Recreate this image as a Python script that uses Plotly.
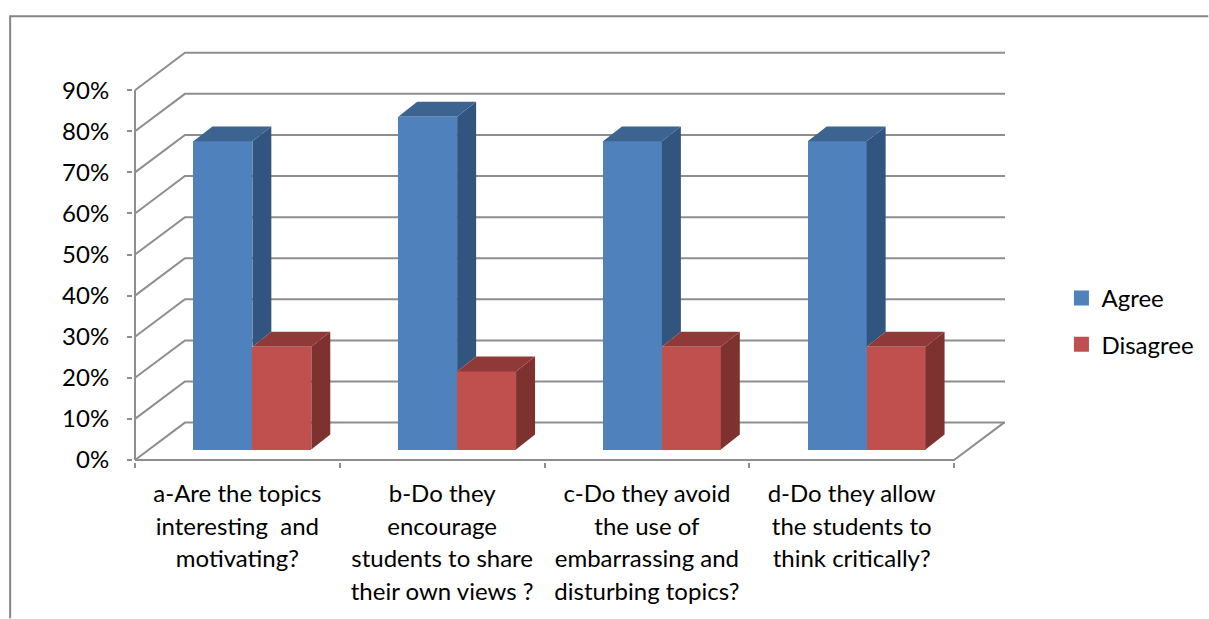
import plotly.graph_objects as go

categories = [
    ["a-Are the topics", "interesting  and", "motivating?"],
    ["b-Do they", "encourage", "students to share", "their own views ?"],
    ["c-Do they avoid", "the use of", "embarrassing and", "disturbing topics?"],
    ["d-Do they allow", "the students to", "think critically?"],
]
agree = [75, 81, 75, 75]
disagree = [25, 19, 25, 25]
y_ticks = [0, 10, 20, 30, 40, 50, 60, 70, 80, 90]

FONT = "Lato, Carlito, Calibri, sans-serif"
BLUE, BLUE_SIDE, BLUE_TOP = "#4F81BD", "#32557F", "#3D6490"
RED, RED_SIDE, RED_TOP = "#C0504D", "#7D3230", "#8F3A38"
GRID = "#8E8E8E"

# plot-area geometry (pixels): origin at (X0, Y0), back wall ends at (X1, Y1)
W, H = 1209, 619
X0, X1, Y0, Y1 = 134.5, 1005.5, 460.5, 52.7
PAD = 2  # room so lines on the edges of the plot area are not clipped
CAT_PX = 205.0
PCT_PX = 4.117
L, R, B, T = X0 - PAD, X1 + PAD, Y0 + PAD, Y1 - PAD
x_lo, x_hi = -PAD / CAT_PX, (R - X0) / CAT_PX
y_lo, y_hi = -PAD / PCT_PX, (Y0 - T) / PCT_PX
x_max = (X1 - X0) / CAT_PX
wall_dx = 50 / CAT_PX
wall_dy = 37.5 / PCT_PX
bar_dx = 19 / CAT_PX
bar_dy = 15 / PCT_PX
bar_w = 59 / CAT_PX
bar_start = 58.5 / CAT_PX
bar_floor = 10.5 / PCT_PX


def px(x):
    return (x - L) / (R - L)


def py(y):
    return (B - y) / (B - T)


fig = go.Figure()

x_blue = [i + bar_start for i in range(len(agree))]
x_red = [x + bar_w for x in x_blue]

fig.add_trace(go.Bar(x=x_blue, y=agree, base=bar_floor, width=bar_w, offset=0,
                     marker=dict(color=BLUE, line=dict(width=0)), name="Agree", showlegend=False))
fig.add_trace(go.Bar(x=x_red, y=disagree, base=bar_floor, width=bar_w, offset=0,
                     marker=dict(color=RED, line=dict(width=0)), name="Disagree", showlegend=False))


def poly(xs, ys, color):
    fig.add_trace(go.Scatter(x=xs + xs[:1], y=ys + ys[:1], mode="lines", fill="toself",
                             fillcolor=color, line=dict(width=0), showlegend=False,
                             hoverinfo="skip"))


for xb, xr, a, d in zip(x_blue, x_red, agree, disagree):
    ta, td = a + bar_floor, d + bar_floor
    # blue side, visible only above the red bar's top
    poly([xr, xr + bar_dx, xr + bar_dx, xr], [ta, ta + bar_dy, td + bar_dy, td], BLUE_SIDE)
    poly([xb, xr, xr + bar_dx, xb + bar_dx], [ta, ta, ta + bar_dy, ta + bar_dy], BLUE_TOP)
    xe = xr + bar_w
    poly([xe, xe + bar_dx, xe + bar_dx, xe], [td, td + bar_dy, bar_floor + bar_dy, bar_floor], RED_SIDE)
    poly([xr, xe, xe + bar_dx, xr + bar_dx], [td, td, td + bar_dy, td + bar_dy], RED_TOP)

# legend entries as square markers
for name, color in (("Agree", BLUE), ("Disagree", RED)):
    fig.add_trace(go.Scatter(x=[None], y=[None], mode="markers", name=name, legendgroup=name,
                             marker=dict(symbol="square", size=15, color=color)))

shapes = []
line = dict(color=GRID, width=2)
for v in y_ticks:
    shapes.append(dict(type="path", layer="below", xref="x", yref="y", line=line,
                       path=f"M 0 {v} L {wall_dx} {v + wall_dy} L {x_max} {v + wall_dy}"))
n = len(categories)
# floor front edge and right diagonal, value axis line
shapes.append(dict(type="path", layer="below", xref="x", yref="y", line=line,
                   path=f"M 0 0 L {n} 0 L {n + wall_dx} {wall_dy}"))
shapes.append(dict(type="line", layer="below", xref="x", yref="y", line=line,
                   x0=0, x1=0, y0=0, y1=y_ticks[-1]))
# outer chart frame
shapes.append(dict(type="path", xref="paper", yref="paper", line=dict(color="#868686", width=2),
                   path=f"M {px(9.5)} {py(H)} L {px(9.5)} {py(16)} L {px(W)} {py(16)}"))

tick_text = ["<br>".join(f'<span style="font-size:24px">{ln}</span>' for ln in lines)
             for lines in categories]

fig.update_layout(
    width=W, height=H, autosize=False,
    margin=dict(l=L, r=W - R, t=T, b=H - B, pad=0, autoexpand=False),
    paper_bgcolor="white", plot_bgcolor="rgba(0,0,0,0)",
    font=dict(family=FONT, size=24, color="#000000"),
    barmode="overlay", bargap=0,
    shapes=shapes,
    showlegend=True,
    legend=dict(x=px(1062), y=py(276), xanchor="left", yanchor="top",
                font=dict(family=FONT, size=24), tracegroupgap=12, bgcolor="rgba(0,0,0,0)",
                entrywidth=96, entrywidthmode="pixels",
                itemclick=False, itemdoubleclick=False),
    xaxis=dict(range=[x_lo, x_hi], showgrid=False, zeroline=False, showline=False,
               tickmode="array", tickvals=[i + 0.5 for i in range(n)], ticktext=tick_text,
               ticks="", tickangle=0, tickfont=dict(family=FONT, size=25, color="#000000"),
               minor=dict(tickmode="array", tickvals=list(range(n + 1)), ticks="outside",
                          ticklen=5, tickwidth=2, tickcolor=GRID, showgrid=False),
               ticklabelstandoff=14),
    yaxis=dict(range=[y_lo, y_hi], showgrid=False, zeroline=False, showline=False,
               tickmode="array", tickvals=y_ticks, ticktext=[f"{v}%" for v in y_ticks],
               ticks="outside", ticklen=5, tickwidth=2, tickcolor=GRID, ticklabelstandoff=13,
               tickfont=dict(family=FONT, size=24, color="#000000")),
)

fig.write_html("out.html", post_script="document.body.style.margin='0';",
               config={"displayModeBar": False})
